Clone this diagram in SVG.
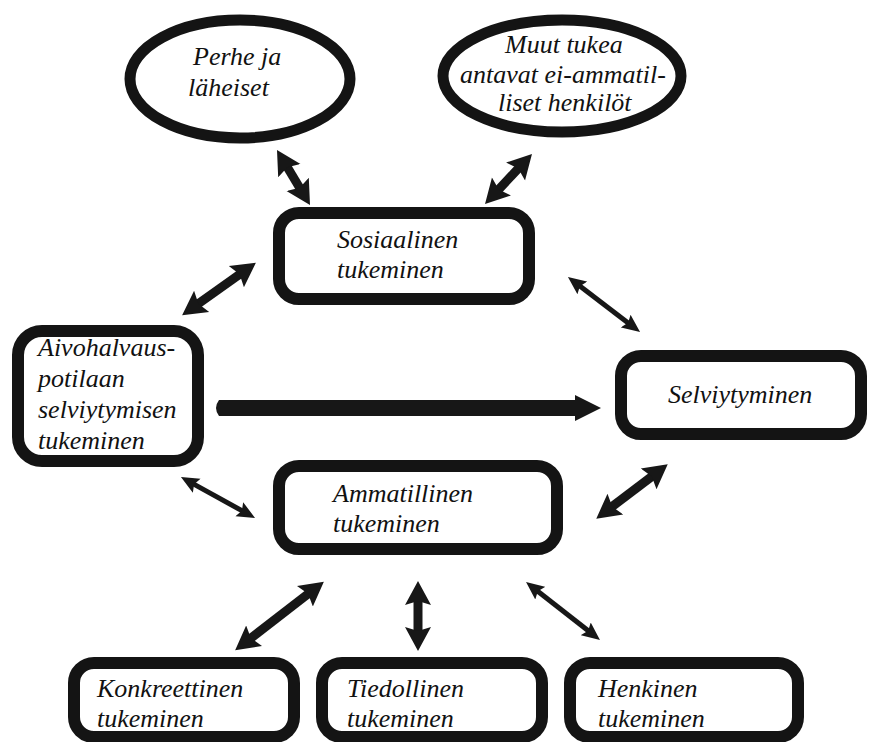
<svg xmlns="http://www.w3.org/2000/svg" width="870" height="742" viewBox="0 0 870 742">
<style>
.bg{fill:#ffffff}
.box{fill:#ffffff;stroke:#141414;stroke-width:12}
.ell{fill:#ffffff;stroke:#141414;stroke-width:11}
.t{font-style:italic;font-size:26px;fill:#111}
.thick{stroke:#171717;stroke-width:9;fill:none;marker-start:url(#hThick);marker-end:url(#hThick)}
.thin{stroke:#171717;stroke-width:5;fill:none;marker-start:url(#hThin);marker-end:url(#hThin)}
.big{fill:#171717}
</style>
<defs>
<marker id="hThick" markerUnits="userSpaceOnUse" viewBox="0 -14 24 28" markerWidth="24" markerHeight="28" refX="10" refY="0" orient="auto-start-reverse">
<path d="M0,-13 L24,0 L0,13 L4,0 z" fill="#171717"/>
</marker>
<marker id="hThin" markerUnits="userSpaceOnUse" viewBox="0 -9 18 18" markerWidth="18" markerHeight="18" refX="8" refY="0" orient="auto-start-reverse">
<path d="M0,-8 L18,0 L0,8 L3,0 z" fill="#171717"/>
</marker>
</defs>
<rect class="bg" x="0" y="0" width="870" height="742"/>

<g id="connectors">
<line class="thick" x1="284.2" y1="162" x2="302.8" y2="193"/>
<line class="thick" x1="522.4" y1="164.2" x2="494.6" y2="193.8"/>
<line class="thick" x1="244.5" y1="270.8" x2="193.5" y2="307.2"/>
<line class="thin" x1="575.9" y1="283.1" x2="632.1" y2="325.9"/>
<line class="thin" x1="189.7" y1="481.9" x2="246.3" y2="513.1"/>
<line class="thick" x1="656.6" y1="472.8" x2="607.4" y2="510.2"/>
<line class="thick" x1="312.8" y1="590.2" x2="246.2" y2="641.8"/>
<line class="thick" x1="418" y1="595" x2="418" y2="637"/>
<line class="thin" x1="533.9" y1="588.2" x2="592.1" y2="633.8"/>
<path class="big" d="M219,400 L575,400 L575,395 L601,408 L575,421 L575,416 L219,416 Q213,408 219,400 z"/>
</g>

<g font-family="'Liberation Serif', 'Times New Roman', Times, serif">
<g id="perhe">
<ellipse class="ell" cx="240" cy="79" rx="110" ry="59"/>
<text class="t" x="193" y="65">Perhe ja</text>
<text class="t" x="188" y="96">läheiset</text>
</g>

<g id="muut">
<ellipse class="ell" cx="562" cy="76" rx="119" ry="56"/>
<text class="t" x="505" y="53">Muut tukea</text>
<text class="t" x="460" y="83">antavat ei-ammatil-</text>
<text class="t" x="498" y="111">liset henkilöt</text>
</g>

<g id="sosiaalinen">
<rect class="box" x="279" y="213" width="250" height="86" rx="20"/>
<text class="t" x="337" y="248">Sosiaalinen</text>
<text class="t" x="337" y="278">tukeminen</text>
</g>

<g id="aivohalvaus">
<rect class="box" x="18" y="331" width="180" height="130" rx="24"/>
<text class="t" x="38" y="356">Aivohalvaus-</text>
<text class="t" x="38" y="387">potilaan</text>
<text class="t" x="38" y="418">selviytymisen</text>
<text class="t" x="38" y="449">tukeminen</text>
</g>

<g id="selviytyminen">
<rect class="box" x="621" y="356" width="240" height="78" rx="20"/>
<text class="t" x="668" y="403">Selviytyminen</text>
</g>

<g id="ammatillinen">
<rect class="box" x="279" y="466" width="278" height="83" rx="20"/>
<text class="t" x="333" y="502">Ammatillinen</text>
<text class="t" x="333" y="532">tukeminen</text>
</g>

<g id="konkreettinen">
<rect class="box" x="74" y="663" width="220" height="74" rx="20"/>
<text class="t" x="97" y="697">Konkreettinen</text>
<text class="t" x="97" y="727">tukeminen</text>
</g>

<g id="tiedollinen">
<rect class="box" x="322" y="663" width="220" height="74" rx="20"/>
<text class="t" x="347" y="697">Tiedollinen</text>
<text class="t" x="347" y="727">tukeminen</text>
</g>

<g id="henkinen">
<rect class="box" x="570" y="663" width="228" height="74" rx="20"/>
<text class="t" x="598" y="697">Henkinen</text>
<text class="t" x="598" y="727">tukeminen</text>
</g>
</g>
</svg>
